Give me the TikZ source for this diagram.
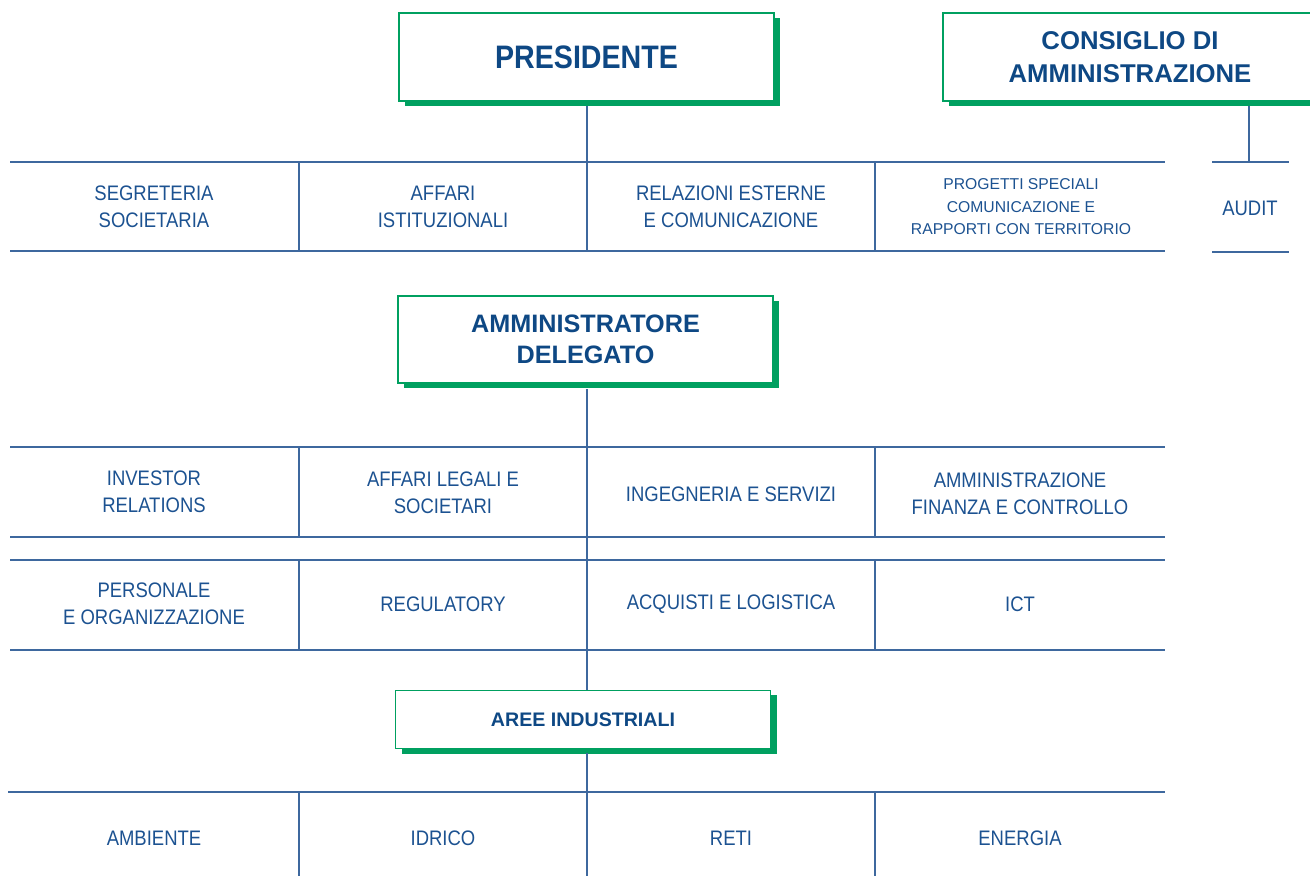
\documentclass[tikz,border=0pt]{standalone}
\usepackage{fontspec}
\setmainfont{Liberation Sans}
\newfontfamily\narrowfam[FakeStretch=0.88]{Liberation Sans}
\usetikzlibrary{shadows}
\definecolor{hgreen}{RGB}{0,160,96}
\definecolor{ttl}{RGB}{14,72,132}
\definecolor{txt}{RGB}{28,82,145}
\definecolor{lnc}{RGB}{62,104,158}
\tikzset{
  box/.style={draw=hgreen, line width=2pt, fill=white, minimum width=375pt,
    minimum height=88pt, inner sep=0pt, align=center, text=ttl,
    drop shadow={shadow xshift=6pt, shadow yshift=-5pt, opacity=1, fill=hgreen}},
  smallbox/.style={box, line width=1pt, minimum height=58pt,
    drop shadow={shadow xshift=6.5pt, shadow yshift=-4.5pt, opacity=1, fill=hgreen}},
  cell/.style={text=txt, align=center, inner sep=0pt, font=\narrowfam\fontsize{21}{27}\selectfont},
  rl/.style={draw=lnc, line width=1.4pt},
}
\begin{document}
\begin{tikzpicture}[x=1pt,y=-1pt]
\clip (0,0) rectangle (1310,876);
\fill[white] (0,0) rectangle (1310,876);

% title boxes
\node[box, font=\narrowfam\bfseries\fontsize{32.5}{36}\selectfont] (pres) at (586.5,57) {PRESIDENTE};
\node[box, font=\bfseries\fontsize{25.7}{33}\selectfont] (cda) at (1130,57) {CONSIGLIO DI\\AMMINISTRAZIONE};
\node[box, minimum height=87pt, font=\bfseries\fontsize{25.2}{31}\selectfont] (ad) at (585.5,339.5) {AMMINISTRATORE\\DELEGATO};
\node[smallbox, font=\bfseries\fontsize{19.6}{24}\selectfont] (aree) at (583,719.5) {AREE INDUSTRIALI};

% connector coordinates
\coordinate (p1) at (587,106);
\coordinate (p2) at (587,162);
\coordinate (c1) at (1249,106);
\coordinate (c2) at (1249,162);
\coordinate (a1) at (587,389);
\coordinate (a2) at (587,447);
\coordinate (r3b) at (587,650);
\coordinate (ar1) at (587,690);
\coordinate (ar2) at (587,753);
\coordinate (r4t) at (587,792);

\draw[rl] (p1) -- (p2);
\draw[rl] (c1) -- (c2);
\draw[rl] (a1) -- (a2);
\draw[rl] (r3b) -- (ar1);
\draw[rl] (ar2) -- (r4t);

% row 1
\draw[rl] (10,162) -- (1165,162);
\draw[rl] (10,251) -- (1165,251);
\foreach \x in {299,587,875} \draw[rl] (\x,162) -- (\x,251);
\draw[rl] (1212,162) -- (1289,162);
\draw[rl] (1212,252) -- (1289,252);

\node[cell] (s1) at (154,206.5) {SEGRETERIA\\SOCIETARIA};
\node[cell] (s2) at (443,206.5) {AFFARI\\ISTITUZIONALI};
\node[cell] (s3) at (731,206.5) {RELAZIONI ESTERNE\\E COMUNICAZIONE};
\node[cell, font=\fontsize{15.7}{22.5}\selectfont] (s4) at (1021,207) {PROGETTI SPECIALI\\COMUNICAZIONE E\\RAPPORTI CON TERRITORIO};
\node[cell] (audit) at (1250,208) {AUDIT};

% rows 2 and 3
\draw[rl] (10,447) -- (1165,447);
\draw[rl] (10,537) -- (1165,537);
\draw[rl] (10,560) -- (1165,560);
\draw[rl] (10,650) -- (1165,650);
\foreach \x in {299,875} {\draw[rl] (\x,447) -- (\x,537); \draw[rl] (\x,560) -- (\x,650);}
\draw[rl] (a2) -- (r3b);

\node[cell] (d1) at (154,491.5) {INVESTOR\\RELATIONS};
\node[cell] (d2) at (443,493) {AFFARI LEGALI E\\SOCIETARI};
\node[cell] (d3) at (731,494) {INGEGNERIA E SERVIZI};
\node[cell] (d4) at (1020,494) {AMMINISTRAZIONE\\FINANZA E CONTROLLO};
\node[cell] (e1) at (154,604) {PERSONALE\\E ORGANIZZAZIONE};
\node[cell] (e2) at (443,604) {REGULATORY};
\node[cell] (e3) at (731,604) {ACQUISTI E LOGISTICA};
\node[cell] (e4) at (1020,604) {ICT};

% row 4
\draw[rl] (8,792) -- (1165,792);
\foreach \x in {299,587,875} \draw[rl] (\x,792) -- (\x,876);
\node[cell] (f1) at (154,838) {AMBIENTE};
\node[cell] (f2) at (443,838) {IDRICO};
\node[cell] (f3) at (731,838) {RETI};
\node[cell] (f4) at (1020,838) {ENERGIA};
\end{tikzpicture}
\end{document}
